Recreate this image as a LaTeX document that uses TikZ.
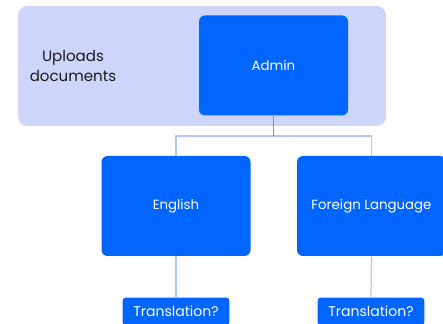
\documentclass[tikz,border=0pt]{standalone}
\usepackage{fontspec}
\setmainfont{Poppins}
\definecolor{boxblue}{HTML}{0066FF}
\definecolor{panelblue}{HTML}{CDD5FB}
\definecolor{wireblue}{HTML}{ADC8F5}
\definecolor{stubblue}{HTML}{6F8FDA}
\definecolor{inkgray}{HTML}{1A1A1A}
\tikzset{
  rolebox/.style={fill=boxblue, rounded corners=4.5pt, text=white, font=\fontsize{10}{12}\selectfont,
    minimum width=111.75pt, minimum height=75pt, inner sep=0pt},
  askbox/.style={fill=boxblue, rounded corners=2.5pt, text=white, font=\fontsize{10.5}{12}\selectfont,
    minimum width=80pt, minimum height=21pt, inner sep=0pt},
  wire/.style={draw=wireblue, line width=0.9pt}
}
\begin{document}
\begin{tikzpicture}[x=0.75pt, y=-0.75pt]
\useasboundingbox (0,0) rectangle (443,324);
% group panel
\node[fill=panelblue, rounded corners=7pt, minimum width=276pt, minimum height=90pt, inner sep=0pt] (panel) at (202,66) {};
\node[align=center, text=inkgray, font=\fontsize{11.3}{15}\selectfont] (uploads) at (73,66) {Uploads\\documents};
% boxes
\node[rolebox] (admin) at (273.5,65.5) {Admin};
\node[rolebox] (english) at (176,206) {English};
\node[rolebox] (foreign) at (371.5,206) {Foreign Language};
\node[askbox] (askeng) at (176,311.5) {Translation?};
\node[askbox] (askfor) at (371,311.5) {Translation?};
% connectors
\coordinate (bus) at (273.5,136);
\draw[wire] (english.north) |- (bus) -| (foreign.north);
\draw[wire, draw=stubblue] (admin.south) -- (bus);
\draw[wire] (english.south) -- (askeng.north);
\draw[wire] (foreign.south) -- (askfor.north);
\end{tikzpicture}
\end{document}
